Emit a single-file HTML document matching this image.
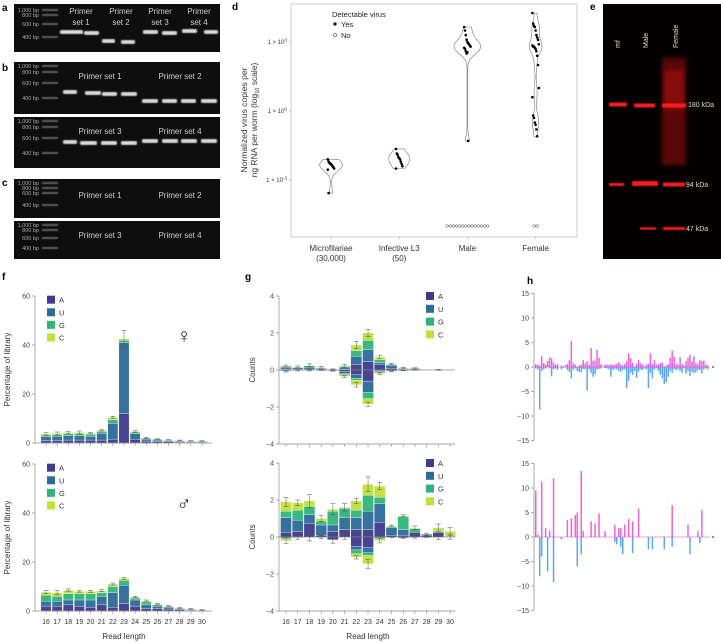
<!DOCTYPE html>
<html><head><meta charset="utf-8"><style>
body{margin:0;background:#fff}
svg{display:block;font-family:"Liberation Sans",sans-serif}
</style></head><body>
<svg id="fig" width="721" height="644" viewBox="0 0 721 644" xmlns="http://www.w3.org/2000/svg">
<defs>
<filter id="blur1"><feGaussianBlur stdDeviation="0.8"/></filter>
<filter id="blur2"><feGaussianBlur stdDeviation="2.5"/></filter>
</defs>
<g id="gels"></g>
<g id="pd"></g>
<g id="pe"></g>
<g id="pf"></g>
<g id="pg"></g>
<g id="ph"></g>
</svg>
<script>
// ---------- DATA ----------
const readLengths=[16,17,18,19,20,21,22,23,24,25,26,27,28,29,30];
const nucleotides=['A','U','G','C'];
const nucColors=['#3f3a8c','#2d6b9a','#2fb57c','#bfe03a'];
const fFemA=[1,1,1.2,1.2,1.2,1.2,1.5,12,1.5,0.8,0.6,0.5,0.4,0.3,0.3];
const fFemU=[1.5,1.7,1.8,1.8,1.6,2.8,6.5,29,2.3,0.8,0.6,0.5,0.4,0.3,0.3];
const fFemG=[0.7,0.7,0.8,0.8,0.7,0.7,1.5,1,0.6,0.3,0.3,0.2,0.2,0.2,0.1];
const fFemC=[0.5,0.5,0.5,0.5,0.5,0.5,1,0.5,0.3,0.2,0.1,0.1,0.1,0.1,0.1];
const fFemErr=[0.5,0.6,0.4,0.6,0.3,0.3,0.4,3.5,0.3,0.2,0.1,0.1,0.1,0.1,0.1];
const fMalA=[2,2,2.5,2,1.5,2.5,1.5,3,2,1,1,0.8,0.6,0.3,0.2];
const fMalU=[2,2,2,2.5,3,3.5,6,7.5,2.5,1.5,1,0.7,0.4,0.3,0.1];
const fMalG=[2.5,2,2.5,2.5,2.5,1.5,2.5,2,0.8,1.2,0.5,0.3,0.2,0.2,0.1];
const fMalC=[1.2,1.5,1.5,1,1,0.8,1,0.8,0.4,0.5,0.3,0.2,0.1,0.1,0.05];
const fMalErr=[0.6,0.9,0.5,0.3,0.4,0.4,0.4,0.4,0.3,0.3,0.3,0.2,0.2,0.2,0.1];
const gTopPosA=[0.05,0.05,0.05,0.03,0,0.05,0.3,0.45,0.3,0.1,0.03,0.03,0,0.01,0];
const gTopPosU=[0.1,0.08,0.1,0.05,0.02,0.1,0.45,0.65,0.1,0.15,0.05,0.05,0,0.01,0];
const gTopPosG=[0.05,0.03,0.08,0.05,0.02,0.05,0.3,0.5,0.15,0.05,0.02,0.02,0,0,0];
const gTopPosC=[0.02,0.01,0.02,0.02,0,0.02,0.3,0.4,0.15,0.02,0.02,0,0,0,0];
const gTopNegA=[-0.03,-0.02,0,0,-0.03,-0.1,-0.25,-0.6,-0.05,-0.03,-0.02,0,0,0,0];
const gTopNegU=[-0.03,0,0,0,-0.02,-0.1,-0.2,-0.6,-0.05,-0.03,-0.01,0,0,0,0];
const gTopNegG=[-0.01,0,0,0,0,-0.05,-0.1,-0.35,-0.05,-0.01,0,0,0,0,0];
const gTopNegC=[-0.01,0,0,0,0,-0.1,-0.25,-0.3,-0.05,0,0,0,0,0,0];
const gBotPosA=[0.25,0.3,0.75,0.1,0.3,0.4,0.4,0.4,0.8,0.1,0.1,0.25,0.1,0.25,0];
const gBotPosU=[0.8,0.6,0.45,0.55,0.35,0.65,0.65,1,1,0.4,0.3,0,0.05,0,0];
const gBotPosG=[0.35,0.55,0.45,0.2,0.75,0.5,0.4,0.85,0.35,0.05,0.7,0.2,0,0.05,0.05];
const gBotPosC=[0.5,0.4,0.3,0.15,0.1,0.05,0.5,0.6,0.6,0.05,0.05,0.05,0,0.2,0.25];
const gBotNegA=[0,0,0,0,-0.15,0,-0.5,-0.55,0,0,-0.05,0,0,0,0];
const gBotNegU=[0,0,0,0,0,0,-0.2,-0.3,0,0,0,0,0,0,0];
const gBotNegG=[-0.1,-0.03,0,0,0,0,-0.2,-0.15,-0.1,0,0,0,0,0,0];
const gBotNegC=[-0.1,0,0,0,0,0,-0.2,-0.45,-0.1,0,0,0,0,0,0];
const gTopErr=[0.05,0.05,0.08,0.05,0.02,0.08,0.2,0.2,0.1,0.03,0.02,0.02,0,0.01,0];
const gBotErr=[0.25,0.15,0.35,0.15,0.3,0.2,0.15,0.4,0.2,0.05,0.05,0.1,0.05,0.2,0.2];
const fTicks=[0,20,40,60];
const gTicks=[-4,-2,0,2,4];
const hTicks=[-15,-10,-5,0,5,10,15];
const hTopPos=[0.6,0.5,0.3,2.2,0.8,0.5,1.2,1.9,1.8,0.9,0.5,0.6,0,0.3,0,0.4,0.6,1.4,5.3,0.8,0.5,0,0.3,0.5,1.4,0.7,1.2,0.5,3.9,1.3,1.3,3.5,1.9,0.6,0,0.5,0.5,0.3,0.6,0.4,0.5,0.6,1,0.5,0.3,0.6,1.2,2.8,1.8,0.9,0,0.6,1.4,0.8,0.5,0,0.5,0.7,2.8,0.6,1.4,0.5,0.6,0.8,0.9,0,0.3,0.6,1.9,3.4,2.1,0.7,0.5,2,0.6,0.3,1.2,1.8,2.5,1.1,2.2,0.8,0.6,1.5,1.2,1.3,0.5,0.3];
const hTopNeg=[-0.3,-0.5,-8.7,-0.8,-0.5,-0.3,0,-0.3,-1.9,-0.5,-0.3,-0.6,0,-0.5,-0.2,0,-0.6,-1,-2.3,-0.5,-0.3,-0.8,-1,-1.1,-0.4,-0.5,-4.8,-0.5,-1.2,-2,-1.5,-0.5,-0.4,-0.3,0,-0.2,-0.3,-0.5,-2,-0.6,-0.4,-0.5,-0.8,-1,-0.6,-0.5,-4.3,-2.8,-1.2,-1.6,-0.8,-2.2,-1,-0.5,-0.6,-0.3,-0.5,-4.3,-1.2,-2.3,-0.5,-0.3,-0.8,-1.6,-2.3,-3.5,-3.1,-2,-0.8,-1.2,-0.5,-0.6,-0.5,-0.8,-1.2,-0.3,-1.4,-0.8,-1.8,-1,-1.2,-1.1,-0.6,-0.6,-1.3,-0.5,-0.3,-0.5];
const hBotPos=[9.5,0.5,0,11.3,0,1.8,0,1.3,0,12,0,0,0,0,0,0,3.5,0,3.8,0,4.5,5,0,13.5,1.2,0,0,0,3.2,0,2.8,0,4.8,0,0,1.2,0,0,0,0,2.5,0,1.8,1.8,0,2.5,0,3.7,0,3.2,0,0,5.8,0,0,0,0,0,0,0,0,0,0,0,0,0,0,0,0,6.5,0,0,0,0,0,0,0,2.5,0,0,0,0,1.2,0,5.5,0,0,0];
const hBotNeg=[0,0,-8,-4,0,0,-7,0,0,-9.2,0,0,0,-0.5,0,0,0,0,0,0,0,-6,0,-3.5,0,0,0,0,0,0,0,0,0,0,0,0,0,0,0,0,-1,-1.5,0,-2,-3.5,0,0,0,0,-3.3,0,0,0,0,0,0,0,-2.5,0,-2.5,0,0,0,0,0,-2.5,0,0,0,-2,0,0,0,0,0,0,0,0,-3.5,0,0,0,0,-1.2,0,0,0,0];
const dGroups=['Microfilariae','Infective L3','Male','Female'];
const dGroupSub=['(30,000)','(50)','',''];
const dTicks=[-3,0,3];
const dMf=[-2.1,-2.2,-2.25,-2.3,-2.3,-2.35,-2.4,-2.45,-2.5,-2.55,-3.57];
const dL3=[-1.65,-1.85,-1.9,-2.0,-2.05,-2.1,-2.2,-2.3,-2.4,-2.5];
const dMale=[3.65,3.5,3.3,3.1,3.0,2.95,2.9,2.85,2.8,2.75,2.7,2.6,2.5,2.55,-1.3];
const dFemale=[4.26,3.8,3.7,3.65,3.5,3.3,3.2,3.1,2.9,2.85,2.8,2.8,2.75,2.7,2.6,2.4,2.0,1.0,0.6,-0.2,-0.3,-0.5,-0.6,-0.8,-1.1];
const dNoDetect=[0,0,14,2];

const NS='http://www.w3.org/2000/svg';
function mk(parent,tag,attrs,text){const e=document.createElementNS(NS,tag);for(const k in attrs)e.setAttribute(k,attrs[k]);if(text!==undefined)e.textContent=text;parent.appendChild(e);return e;}
const fig=document.getElementById('fig');

[['a',2,11],['b',2,71],['c',2,186],['d',232,10],['e',590,10],['f',2,280],['g',245,280],['h',527,284]].forEach(p=>{
 const t=mk(fig,'text',{x:p[1],y:p[2],'font-size':10,'font-weight':'bold',fill:'#000'},p[0]);
 
 
});

const gels=document.getElementById('gels');
function gel(x,y,w,h,name,ladder,bands,labels){
 const g=mk(gels,'g',{});
 
 
 mk(g,'rect',{x:x,y:y,width:w,height:h,fill:'#0e0e0e'});
 ladder.forEach(l=>{
  mk(g,'rect',{x:x+28,y:l[1]-1,width:16,height:2,fill:'#666',filter:'url(#blur1)'});
  mk(g,'text',{x:x+25,y:l[1]+2,'font-size':5.5,fill:'#aaa','text-anchor':'end'},l[0]);
 });
 bands.forEach(b=>mk(g,'rect',{x:b[0],y:b[1]-2,width:b[2],height:4,rx:1.5,fill:'#dcdcdc',filter:'url(#blur1)'}));
 labels.forEach(l=>mk(g,'text',{x:l[0],y:l[1],'font-size':8,fill:'#ccc','text-anchor':'middle'},l[2]));
}
gel(14,4,206,48,'gel-a',[['1,000 bp',10],['800 bp',15],['600 bp',24],['400 bp',37]],
 [[60,32,23],[84,33,15],[102,41,13],[121,42,14],[143,32,15],[162,33,15],[182,31,15],[204,32,14]],
 [[81,14,'Primer'],[81,25,'set 1'],[121,14,'Primer'],[121,25,'set 2'],[160,14,'Primer'],[160,25,'set 3'],[199,14,'Primer'],[199,25,'set 4']]);
gel(14,62,206,52,'gel-b-top',[['1,000 bp',66],['800 bp',72],['600 bp',83],['400 bp',98]],
 [[63,92,14],[85,93,16],[102,94,15],[121,94,16],[142,101,16],[162,101,15],[181,101,15],[201,101,16]],
 [[100,79,'Primer set 1'],[180,79,'Primer set 2']]);
gel(14,117,206,51,'gel-b-bottom',[['1,000 bp',121],['800 bp',127],['600 bp',138],['400 bp',153]],
 [[63,142,14],[80,143,17],[101,143,16],[121,143,16],[142,141,16],[162,141,16],[181,141,16],[201,141,16]],
 [[100,134,'Primer set 3'],[180,134,'Primer set 4']]);
gel(14,179,206,39,'gel-c-top',[['1,000 bp',183],['800 bp',188],['600 bp',193],['400 bp',205]],[],
 [[100,198,'Primer set 1'],[180,198,'Primer set 2']]);
gel(14,221,206,38,'gel-c-bottom',[['1,000 bp',225],['800 bp',230],['600 bp',238],['400 bp',248]],[],
 [[100,238,'Primer set 3'],[180,238,'Primer set 4']]);

const pd=document.getElementById('pd');
const dL=291,dR=577,dT=4,dB=237;
const dX=i=>331+i*68.2;
const dY=v=>111-23*v;
const violinMaxHalf=[11,10,13,6];
mk(pd,'rect',{x:dL,y:dT,width:dR-dL,height:dB-dT,fill:'none',stroke:'#ccc','stroke-width':1});
dTicks.forEach(t=>{
 mk(pd,'line',{x1:dL-2,x2:dL,y1:dY(t),y2:dY(t),stroke:'#888','stroke-width':0.5});
 const tx=mk(pd,'text',{x:dL-4,y:dY(t)+2,'font-size':6,fill:'#333','text-anchor':'end'},'1 × 10');
 mk(tx,'tspan',{dy:-2.5,'font-size':4.5},String(t));
});
const yt=mk(pd,'text',{transform:'translate(247,120) rotate(-90)','font-size':8.5,fill:'#333','text-anchor':'middle'});


mk(yt,'tspan',{x:0,y:0},'Normalized virus copies per');
mk(yt,'tspan',{x:0,y:10},'ng RNA per worm (log');
mk(yt,'tspan',{dy:2,'font-size':5.5},'10');
mk(yt,'tspan',{dy:-2},' scale)');
const groupsData=[dMf,dL3,dMale,dFemale];
groupsData.forEach((arr,gi)=>{
 const cx=dX(gi);
 const g=mk(pd,'g',{});
 
 
 mk(g,'line',{x1:cx,x2:cx,y1:dB,y2:dB+2,stroke:'#888','stroke-width':0.5});
 mk(g,'text',{x:cx,y:251,'font-size':8,fill:'#333','text-anchor':'middle'},dGroups[gi]);
 if(dGroupSub[gi])mk(g,'text',{x:cx,y:261,'font-size':8,fill:'#333','text-anchor':'middle'},dGroupSub[gi]);
 const mn=Math.min(...arr),mx=Math.max(...arr);
 const bw=0.22,steps=60,dens=[];
 for(let s=0;s<=steps;s++){const v=mn+(mx-mn)*s/steps;let d=0;arr.forEach(a=>d+=Math.exp(-0.5*((v-a)/bw)**2));dens.push([v,d]);}
 const dm=Math.max(...dens.map(d=>d[1]));
 const W=violinMaxHalf[gi];
 let pts=dens.map(d=>[cx+W*d[1]/dm+0.4,dY(d[0])]);
 pts=pts.concat(dens.slice().reverse().map(d=>[cx-W*d[1]/dm-0.4,dY(d[0])]));
 mk(g,'path',{d:'M'+pts.map(p=>p[0].toFixed(1)+','+p[1].toFixed(1)).join('L')+'Z',fill:'none',stroke:'#777','stroke-width':0.6});
 arr.forEach((v,i)=>{
  const c=mk(g,'circle',{cx:cx+((i*37)%9-4)*0.8,cy:dY(v),r:1.3,fill:'#000'});
  
  
 });
 const n=dNoDetect[gi];
 for(let k=0;k<n;k++){
  const c=mk(g,'circle',{cx:cx-(n-1)*1.55+k*3.1,cy:226,r:1.3,fill:'#fff',stroke:'#444','stroke-width':0.5});
  
  
 }
});
const dl=mk(pd,'g',{});


mk(dl,'text',{x:332,y:17,'font-size':7.5,fill:'#222'},'Detectable virus');
mk(dl,'circle',{cx:335,cy:24,r:1.6,fill:'#000'});
mk(dl,'text',{x:341,y:27,'font-size':7.5,fill:'#222'},'Yes');
mk(dl,'circle',{cx:335,cy:35,r:1.5,fill:'#fff',stroke:'#333','stroke-width':0.6});
mk(dl,'text',{x:341,y:38,'font-size':7.5,fill:'#222'},'No');

const pe=document.getElementById('pe');
mk(pe,'rect',{x:603,y:4,width:118,height:255,fill:'#050000'});
mk(pe,'rect',{x:662,y:58,width:24,height:107,fill:'#a00c0c',opacity:0.55,filter:'url(#blur2)'});
mk(pe,'rect',{x:664,y:70,width:20,height:40,fill:'#e01818',opacity:0.35,filter:'url(#blur2)'});
[[609,104,18,3],[634,105,21,3],[662,105,24,3],[609,184,15,2],[632,183,26,4],[663,184,22,3],[640,228,16,1.5],[663,228,22,2]].forEach(b=>{
 const r=mk(pe,'rect',{x:b[0],y:b[1]-b[3]/2,width:b[2],height:b[3]+1,fill:'#ff1a1a',filter:'url(#blur1)'});
 
 
});
[['mf',620,30],['Male',648,30],['Female',678,30]].forEach(l=>mk(pe,'text',{transform:`translate(${l[1]},${l[2]+18}) rotate(-90)`,'font-size':7,fill:'#ddd'},l[0]));
[['180 kDa',688,107],['94 kDa',686,187],['47 kDa',686,231]].forEach(l=>mk(pe,'text',{x:l[1],y:l[2],'font-size':7,fill:'#ddd'},l[0]));

function axisLeft(g,x,yFn,ticks,y0,y1){
 mk(g,'line',{x1:x,x2:x,y1:yFn(y0),y2:yFn(y1),stroke:'#888','stroke-width':0.7});
 ticks.forEach(t=>{mk(g,'line',{x1:x-3,x2:x,y1:yFn(t),y2:yFn(t),stroke:'#888','stroke-width':0.7});
  mk(g,'text',{x:x-5,y:yFn(t)+2.5,'font-size':7,fill:'#444','text-anchor':'end'},String(t).replace('-','−'));});
}
function stack(g,xFn,yFn,series,bw){
 readLengths.forEach((rl,i)=>{
  let acc=0;
  series.forEach((s,si)=>{
   const v=s[i];if(!v)return;
   const a=yFn(acc),b=yFn(acc+v);
   const r=mk(g,'rect',{x:xFn(i)-bw/2,y:Math.min(a,b),width:bw,height:Math.abs(a-b),fill:nucColors[si],stroke:'#fff','stroke-width':0.3,opacity:0.95});
   
   
   acc+=v;
  });
 });
}
function errBars(g,xFn,yFn,series,err){
 readLengths.forEach((rl,i)=>{
  const tot=series.reduce((s,a)=>s+a[i],0);
  if(!err[i])return;
  const y1=yFn(tot+err[i]),y2=yFn(tot-err[i]),x=xFn(i);
  mk(g,'path',{d:`M${x},${y1}V${y2}M${x-2.5},${y1}H${x+2.5}M${x-2.5},${y2}H${x+2.5}`,stroke:'#555','stroke-width':0.5,fill:'none'});
 });
}
function xAxis(g,x0,x1,y,xFn,labels){
 mk(g,'line',{x1:x0,x2:x1,y1:y,y2:y,stroke:'#888','stroke-width':0.7});
 readLengths.forEach((rl,i)=>{mk(g,'line',{x1:xFn(i),x2:xFn(i),y1:y,y2:y+3,stroke:'#888','stroke-width':0.6});
  if(labels)mk(g,'text',{x:xFn(i),y:y+13,'font-size':7,fill:'#333','text-anchor':'middle'},rl);});
}
function legend(g,x,y0,step){
 nucleotides.forEach((n,i)=>{
  const lg=mk(g,'g',{});
  
  
  mk(lg,'rect',{x:x,y:y0+i*step-4,width:8,height:8,fill:nucColors[i]});
  mk(lg,'text',{x:x+12,y:y0+i*step+3,'font-size':7.5,fill:'#333'},n);
 });
}

const pf=document.getElementById('pf');
const fx=i=>46+i*11.14;
[[443,fFemA,fFemU,fFemG,fFemC,fFemErr,'♀',false],[611,fMalA,fMalU,fMalG,fMalC,fMalErr,'♂',true]].forEach(p=>{
 const base=p[0];const yF=v=>base-v*2.45;
 const g=mk(pf,'g',{});
 
 
 axisLeft(g,35,yF,fTicks,0,60);
 const ser=[p[1],p[2],p[3],p[4]];
 stack(g,fx,yF,ser,10.2);
 errBars(g,fx,yF,ser,p[5]);
 xAxis(g,35,212,base,fx,p[7]);
 legend(g,47,yF(58.5),12.6);
 mk(g,'text',{x:184,y:yF(41),'font-size':20,fill:'#222','text-anchor':'middle'},p[6]);
 const yl=mk(g,'text',{transform:`translate(10,${yF(30)}) rotate(-90)`,'font-size':8,fill:'#333','text-anchor':'middle'},'Percentage of library');
 
 
});
mk(pf,'text',{x:124,y:639,'font-size':8,fill:'#333','text-anchor':'middle'},'Read length');

const pg=document.getElementById('pg');
const gx=i=>286+i*11.72;
[[370,[gTopPosA,gTopPosU,gTopPosG,gTopPosC],[gTopNegA,gTopNegU,gTopNegG,gTopNegC],gTopErr,false],
 [537,[gBotPosA,gBotPosU,gBotPosG,gBotPosC],[gBotNegA,gBotNegU,gBotNegG,gBotNegC],gBotErr,true]].forEach(p=>{
 const base=p[0];const yF=v=>base-v*18.5;
 const g=mk(pg,'g',{});
 
 
 axisLeft(g,279,yF,gTicks,-4,4);
 stack(g,gx,yF,p[1],11);
 stack(g,gx,yF,p[2],11);
 errBars(g,gx,yF,p[1],p[3]);
 errBars(g,gx,yF,p[2],p[3].map(v=>v*0.6));
 mk(g,'line',{x1:279,x2:455,y1:base,y2:base,stroke:'#555','stroke-width':0.6});
 xAxis(g,279,455,yF(-4),gx,p[4]);
 legend(g,426,yF(4),12.8);
 const yl=mk(g,'text',{transform:`translate(255,${base}) rotate(-90)`,'font-size':8,fill:'#333','text-anchor':'middle'},'Counts');
 
 
});
mk(pg,'text',{x:368,y:639,'font-size':8,fill:'#333','text-anchor':'middle'},'Read length');

const ph=document.getElementById('ph');
[[367,hTopPos,hTopNeg],[537,hBotPos,hBotNeg]].forEach((p,pi)=>{
 const base=p[0];const yF=v=>base-v*4.9;
 const n=p[1].length;const hx=i=>535+i*(174/n);
 const g=mk(ph,'g',{});
 
 
 axisLeft(g,534,yF,hTicks,-15,15);
 p[1].forEach((v,i)=>{if(!v)return;const r=mk(g,'rect',{x:hx(i),y:yF(v),width:1.5,height:base-yF(v),fill:'#f062d8'});
  
  });
 p[2].forEach((v,i)=>{if(!v)return;const r=mk(g,'rect',{x:hx(i),y:base,width:1.5,height:yF(v)-base,fill:'#5aa6f0'});
  
  });
 mk(g,'line',{x1:534,x2:710,y1:base,y2:base,stroke:'#e040c8','stroke-width':0.6});
 mk(g,'circle',{cx:713,cy:base,r:0.8,fill:'#000'});
});
</script>
</body></html>
